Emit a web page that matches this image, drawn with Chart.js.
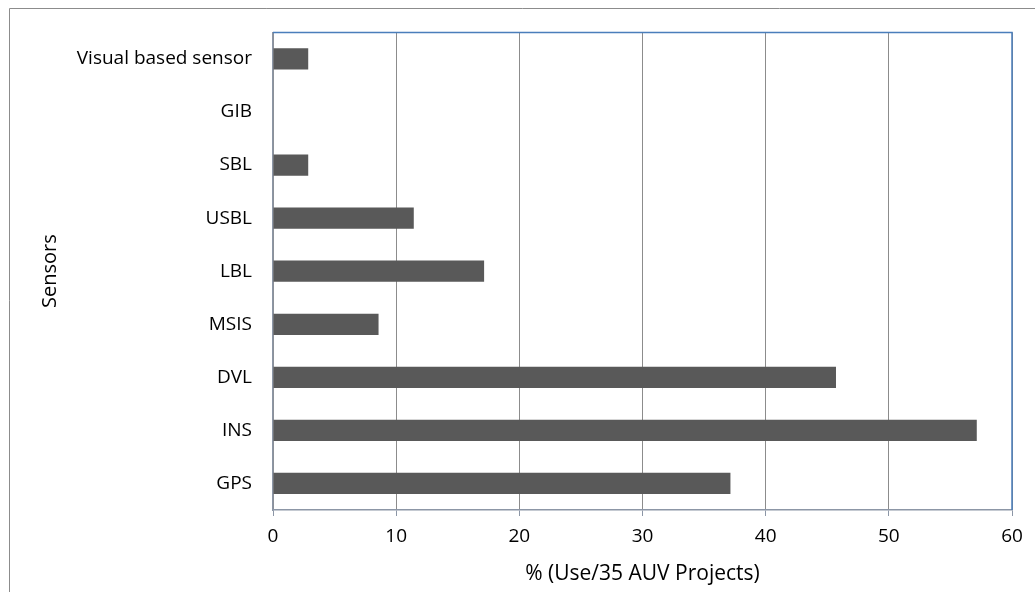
<!DOCTYPE html>
<html>
<head>
<meta charset="utf-8">
<script src="https://cdn.jsdelivr.net/npm/chart.js@4"></script>
<style>
  html, body { margin: 0; padding: 0; background: #fff; }
  #wrap { width: 1035px; height: 592px; position: relative; }
</style>
</head>
<body>
<div id="wrap"><canvas id="myChart"></canvas></div>
<script>
// Datos del grafico (de abajo hacia arriba como en el original)
const sensores = ["GPS", "INS", "DVL", "MSIS", "LBL", "USBL", "SBL", "GIB", "Visual based sensor"];
const porcentajes = [37.14, 57.14, 45.71, 8.57, 17.14, 11.43, 2.86, 0, 2.86];
const ticksX = [0, 10, 20, 30, 40, 50, 60];

const fuente = "'Open Sans', sans-serif";

// Marco exterior y borde azul del area de trazado
const marcoPlugin = {
    id: 'marco',
    beforeDraw: (chart) => {
        const {ctx} = chart;
        ctx.save();
        ctx.fillStyle = "#fff";
        ctx.fillRect(0, 0, chart.width, chart.height);
        ctx.strokeStyle = "#8c8c8c";
        ctx.lineWidth = 1;
        ctx.beginPath();
        ctx.moveTo(9.5, chart.height + 5);
        ctx.lineTo(9.5, 8.5);
        ctx.lineTo(chart.width + 5, 8.5);
        ctx.stroke();
        ctx.restore();
    },
    afterDatasetsDraw: (chart) => {
        const {ctx, chartArea} = chart;
        ctx.save();
        ctx.strokeStyle = "#4a7ebb";
        ctx.lineWidth = 1.5;
        ctx.beginPath();
        ctx.moveTo(chartArea.left, chartArea.top);
        ctx.lineTo(chartArea.right, chartArea.top);
        ctx.lineTo(chartArea.right, chartArea.bottom);
        ctx.stroke();
        ctx.restore();
    }
};

const config = {
    type: "bar",
    data: {
        labels: sensores,
        datasets: [{
            label: "% (Use/35 AUV Projects)",
            data: porcentajes,
            backgroundColor: "#595959",
            borderWidth: 0,
            categoryPercentage: 1,
            barPercentage: 0.4
        }]
    },
    options: {
        indexAxis: "y",
        responsive: true,
        maintainAspectRatio: false,
        animation: false,
        layout: { padding: { top: 27, right: 23, left: 0, bottom: 0 } },
        plugins: {
            legend: { display: false },
            tooltip: { enabled: false }
        },
        scales: {
            x: {
                min: 0,
                max: 60,
                afterBuildTicks: (scale) => {
                    scale.ticks = ticksX.map(v => ({ value: v }));
                },
                afterFit: (scale) => { scale.height = 82; },
                grid: {
                    color: "#8c8c8c",
                    lineWidth: 1,
                    drawTicks: true,
                    tickLength: 6,
                    tickColor: "#8c96a6"
                },
                border: { display: true, color: "#8c96a6", width: 1.5 },
                ticks: {
                    color: "#000",
                    padding: 9,
                    font: { family: fuente, size: 19 }
                },
                title: {
                    display: true,
                    text: "% (Use/35 AUV Projects)",
                    color: "#000",
                    font: { family: fuente, size: 21 },
                    padding: { top: 0, bottom: 5 }
                }
            },
            y: {
                reverse: true,
                afterFit: (scale) => { scale.width = 273; },
                grid: { display: false, drawTicks: false },
                border: { display: true, color: "#8c96a6", width: 1.5 },
                ticks: {
                    color: "#000",
                    padding: 21,
                    font: { family: fuente, size: 19 }
                },
                title: {
                    display: true,
                    text: "Sensors",
                    color: "#000",
                    font: { family: fuente, size: 20 },
                    padding: { top: 38, bottom: 0 }
                }
            }
        }
    },
    plugins: [marcoPlugin]
};

const myChart = new Chart(document.querySelector("#myChart"), config);
</script>
</body>
</html>
